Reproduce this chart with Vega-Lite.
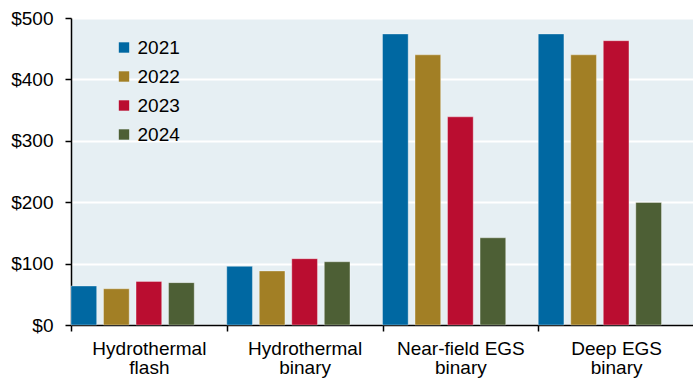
{
  "$schema": "https://vega.github.io/schema/vega-lite/v6.json",
  "width": 623,
  "height": 307,
  "autosize": {"type": "none"},
  "padding": {"left": 71, "top": 18, "right": 0, "bottom": 56},
  "background": "#ffffff",
  "config": {
    "font": "Liberation Sans",
    "view": {"fill": "#E6EFF3", "stroke": null}
  },
  "data": {
    "values": [
      {"tech": "Hydrothermal\nflash", "year": "2021", "value": 63.5},
      {"tech": "Hydrothermal\nflash", "year": "2022", "value": 59},
      {"tech": "Hydrothermal\nflash", "year": "2023", "value": 71},
      {"tech": "Hydrothermal\nflash", "year": "2024", "value": 69},
      {"tech": "Hydrothermal\nbinary", "year": "2021", "value": 95.5},
      {"tech": "Hydrothermal\nbinary", "year": "2022", "value": 88},
      {"tech": "Hydrothermal\nbinary", "year": "2023", "value": 108},
      {"tech": "Hydrothermal\nbinary", "year": "2024", "value": 103},
      {"tech": "Near-field EGS\nbinary", "year": "2021", "value": 474},
      {"tech": "Near-field EGS\nbinary", "year": "2022", "value": 440},
      {"tech": "Near-field EGS\nbinary", "year": "2023", "value": 339},
      {"tech": "Near-field EGS\nbinary", "year": "2024", "value": 142},
      {"tech": "Deep EGS\nbinary", "year": "2021", "value": 474},
      {"tech": "Deep EGS\nbinary", "year": "2022", "value": 440},
      {"tech": "Deep EGS\nbinary", "year": "2023", "value": 463},
      {"tech": "Deep EGS\nbinary", "year": "2024", "value": 199.5}
    ]
  },
  "mark": {"type": "bar", "stroke": "#ffffff", "strokeOpacity": 0.35, "strokeWidth": 1},
  "encoding": {
    "x": {
      "field": "tech",
      "type": "nominal",
      "sort": null,
      "scale": {"paddingInner": 0, "paddingOuter": 0},
      "axis": {
        "title": null,
        "labelAngle": 0,
        "labelExpr": "split(datum.label, '\\n')",
        "labelFontSize": 19,
        "labelColor": "#000000",
        "labelLineHeight": 19,
        "labelPadding": 8,
        "domainColor": "#000000",
        "domainWidth": 1.5,
        "tickColor": "#000000",
        "tickWidth": 1.5,
        "tickSize": 6,
        "tickBand": "extent",
        "grid": false
      }
    },
    "xOffset": {
      "field": "year",
      "type": "nominal",
      "scale": {"domain": ["2021", "2022", "2023", "2024", "x"], "paddingInner": 0.21, "paddingOuter": 0}
    },
    "y": {
      "field": "value",
      "type": "quantitative",
      "scale": {"domain": [0, 500], "nice": false},
      "axis": {
        "title": null,
        "values": [0, 100, 200, 300, 400, 500],
        "labelExpr": "'$' + datum.value",
        "labelFontSize": 19,
        "labelColor": "#000000",
        "labelPadding": 12,
        "domainColor": "#000000",
        "domainWidth": 1.5,
        "tickColor": "#000000",
        "tickWidth": 1.5,
        "tickSize": 6,
        "grid": true,
        "gridColor": "#ffffff",
        "gridWidth": 2
      }
    },
    "color": {
      "field": "year",
      "type": "nominal",
      "scale": {
        "domain": ["2021", "2022", "2023", "2024"],
        "range": ["#0068A2", "#A27F25", "#BA0D30", "#4D5F35"]
      },
      "legend": {
        "title": null,
        "orient": "none",
        "legendX": 43.5,
        "legendY": 20,
        "symbolType": "square",
        "symbolSize": 108,
        "symbolStrokeWidth": 0,
        "symbolOpacity": 1,
        "labelFontSize": 19,
        "labelColor": "#000000",
        "labelOffset": 4,
        "rowPadding": 9,
        "padding": 0
      }
    }
  }
}
